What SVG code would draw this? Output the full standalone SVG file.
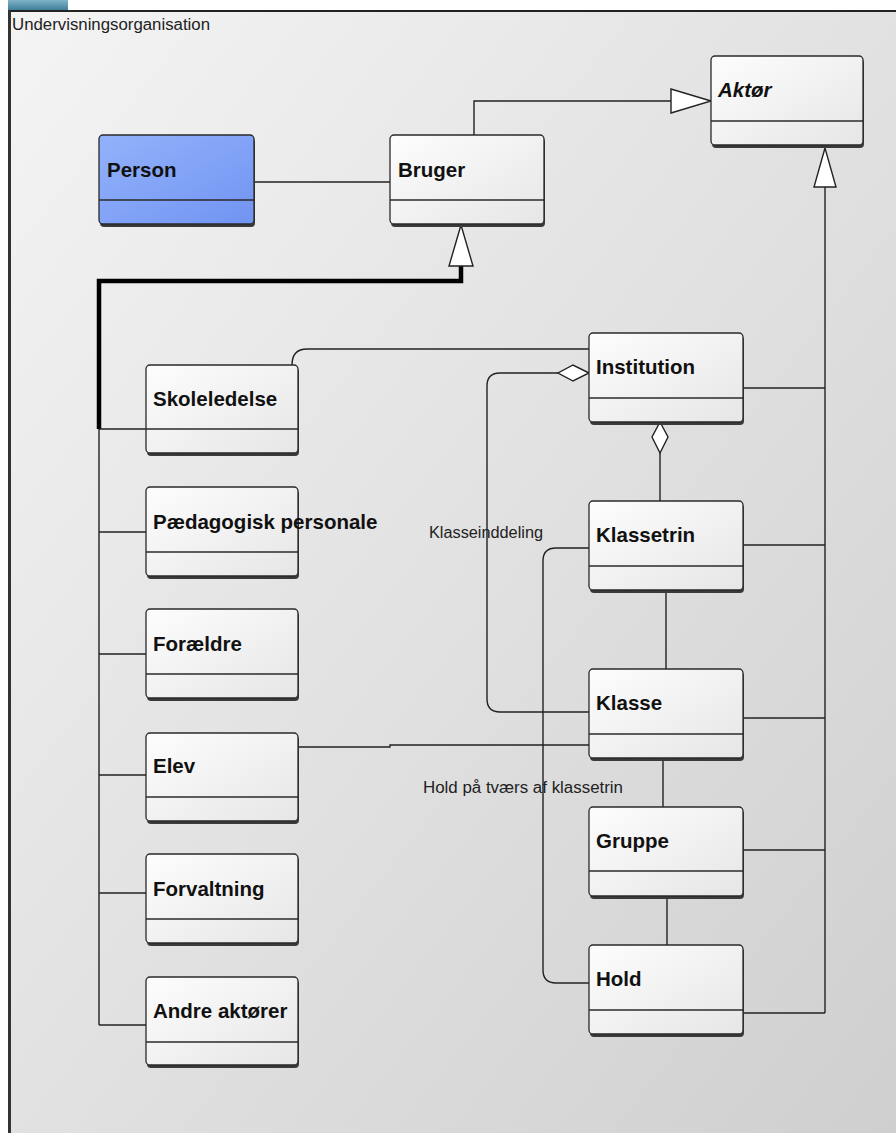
<svg xmlns="http://www.w3.org/2000/svg" width="896" height="1133" viewBox="0 0 896 1133">
<defs>
<linearGradient id="bg" x1="0" y1="0" x2="1" y2="1">
<stop offset="0" stop-color="#f4f4f4"/>
<stop offset="1" stop-color="#cfcfcf"/>
</linearGradient>
<linearGradient id="nodeFill" x1="0" y1="0" x2="1" y2="1">
<stop offset="0" stop-color="#fdfdfd"/>
<stop offset="1" stop-color="#e6e6e6"/>
</linearGradient>
<linearGradient id="personFill" x1="0" y1="0" x2="1" y2="1">
<stop offset="0" stop-color="#93b2fb"/>
<stop offset="1" stop-color="#7194f2"/>
</linearGradient>
<linearGradient id="tab" x1="0" y1="0" x2="0" y2="1">
<stop offset="0" stop-color="#7fb3c8"/>
<stop offset="1" stop-color="#3f7f9a"/>
</linearGradient>
</defs>
<style>
.box{fill:url(#nodeFill);stroke:#2a2a2a;stroke-width:1.3}
.shadow{fill:#3a3a3a}
.div{stroke:#2a2a2a;stroke-width:1.3}
.name{font-family:"Liberation Sans",Arial,sans-serif;font-weight:bold;font-size:20.5px;fill:#111}
.lbl{font-family:"Liberation Sans",Arial,sans-serif;font-size:16px;fill:#222}
.ln{fill:none;stroke:#222;stroke-width:1.4}
.thick{fill:none;stroke:#000;stroke-width:4.5}
.hollow{fill:#fff;stroke:#222;stroke-width:1.4}
</style>
<rect x="0" y="0" width="896" height="1133" fill="#ffffff"/>
<rect x="8" y="10" width="888" height="1123" fill="url(#bg)"/>
<rect x="8" y="0" width="60" height="10" fill="url(#tab)"/>
<line x1="8" y1="11" x2="896" y2="11" stroke="#222" stroke-width="2"/>
<line x1="9.5" y1="10" x2="9.5" y2="1133" stroke="#333" stroke-width="3"/>
<text x="12" y="30" class="lbl" textLength="198" lengthAdjust="spacingAndGlyphs">Undervisningsorganisation</text>

<g id="connectors">
<line class="ln" x1="254" y1="182" x2="390" y2="182"/>
<path class="ln" d="M474,135 L474,101 L671,101"/>
<polygon class="hollow" points="711,101 671,89 671,113"/>
<path class="thick" d="M461,266 L461,281 L99,281 L99,429"/>
<polygon class="hollow" points="461,225 449,266 473,266"/>
<path class="ln" d="M99,429 L99,1025"/>
<line class="ln" x1="99" y1="429" x2="146" y2="429"/>
<line class="ln" x1="99" y1="532" x2="146" y2="532"/>
<line class="ln" x1="99" y1="654" x2="146" y2="654"/>
<line class="ln" x1="99" y1="775" x2="146" y2="775"/>
<line class="ln" x1="99" y1="893" x2="146" y2="893"/>
<line class="ln" x1="99" y1="1025" x2="146" y2="1025"/>
<path class="ln" d="M292,365 Q292,349 307,349 L589,349"/>
<path class="ln" d="M558,373 L500,373 Q487,373 487,386 L487,699 Q487,712 500,712 L589,712"/>
<polygon class="hollow" points="589,373 573,365 558,373 573,381"/>
<line class="ln" x1="660" y1="453" x2="660" y2="501"/>
<polygon class="hollow" points="660,422 668,437 660,453 652,437"/>
<line class="ln" x1="666" y1="590" x2="666" y2="669"/>
<line class="ln" x1="663" y1="758" x2="663" y2="807"/>
<line class="ln" x1="667" y1="896" x2="667" y2="945"/>
<path class="ln" d="M589,548 L556,548 Q543,548 543,561 L543,970 Q543,983 556,983 L589,983"/>
<path class="ln" d="M298,747 L390,747 L390,745 L589,745"/>
<line class="ln" x1="743" y1="388" x2="825" y2="388"/>
<line class="ln" x1="743" y1="545" x2="825" y2="545"/>
<line class="ln" x1="743" y1="718" x2="825" y2="718"/>
<line class="ln" x1="743" y1="850" x2="825" y2="850"/>
<line class="ln" x1="743" y1="1013" x2="825" y2="1013"/>
<line class="ln" x1="825" y1="1013" x2="825" y2="187"/>
<polygon class="hollow" points="825,148 814,187 836,187"/>
<text x="429" y="538" class="lbl" textLength="114" lengthAdjust="spacingAndGlyphs">Klasseinddeling</text>
<text x="423" y="793" class="lbl" textLength="200" lengthAdjust="spacingAndGlyphs">Hold på tværs af klassetrin</text>
</g>

<g id="aktor">
<rect class="shadow" x="712" y="59" width="152" height="89" rx="4"/>
<rect class="box" x="711" y="56" width="152" height="89" rx="4"/>
<line class="div" x1="711" y1="121" x2="863" y2="121"/>
<text x="718" y="97" class="name" font-style="italic">Aktør</text>
</g>
<g id="person">
<rect class="shadow" x="100" y="138" width="155" height="89" rx="4"/>
<rect x="99" y="135" width="155" height="89" rx="4" fill="url(#personFill)" stroke="#2a2a2a" stroke-width="1.3"/>
<line class="div" x1="99" y1="200" x2="254" y2="200"/>
<text x="107" y="177" class="name">Person</text>
</g>
<g id="bruger">
<rect class="shadow" x="391" y="138" width="154" height="89" rx="4"/>
<rect class="box" x="390" y="135" width="154" height="89" rx="4"/>
<line class="div" x1="390" y1="200" x2="544" y2="200"/>
<text x="398" y="177" class="name">Bruger</text>
</g>

<g id="skoleledelse">
<rect class="shadow" x="147" y="368" width="152" height="88" rx="4"/>
<rect class="box" x="146" y="365" width="152" height="88" rx="4"/>
<line class="div" x1="146" y1="429" x2="298" y2="429"/>
<text x="153" y="406" class="name">Skoleledelse</text>
</g>
<g id="paedagogisk">
<rect class="shadow" x="147" y="490" width="152" height="89" rx="4"/>
<rect class="box" x="146" y="487" width="152" height="89" rx="4"/>
<line class="div" x1="146" y1="552" x2="298" y2="552"/>
<text x="153" y="529" class="name">Pædagogisk personale</text>
</g>
<g id="foraeldre">
<rect class="shadow" x="147" y="612" width="152" height="89" rx="4"/>
<rect class="box" x="146" y="609" width="152" height="89" rx="4"/>
<line class="div" x1="146" y1="674" x2="298" y2="674"/>
<text x="153" y="651" class="name">Forældre</text>
</g>
<g id="elev">
<rect class="shadow" x="147" y="736" width="152" height="88" rx="4"/>
<rect class="box" x="146" y="733" width="152" height="88" rx="4"/>
<line class="div" x1="146" y1="797" x2="298" y2="797"/>
<text x="153" y="773" class="name">Elev</text>
</g>
<g id="forvaltning">
<rect class="shadow" x="147" y="857" width="152" height="89" rx="4"/>
<rect class="box" x="146" y="854" width="152" height="89" rx="4"/>
<line class="div" x1="146" y1="919" x2="298" y2="919"/>
<text x="153" y="896" class="name">Forvaltning</text>
</g>
<g id="andre">
<rect class="shadow" x="147" y="980" width="152" height="88" rx="4"/>
<rect class="box" x="146" y="977" width="152" height="88" rx="4"/>
<line class="div" x1="146" y1="1042" x2="298" y2="1042"/>
<text x="153" y="1018" class="name">Andre aktører</text>
</g>

<g id="institution">
<rect class="shadow" x="590" y="336" width="154" height="89" rx="4"/>
<rect class="box" x="589" y="333" width="154" height="89" rx="4"/>
<line class="div" x1="589" y1="398" x2="743" y2="398"/>
<text x="596" y="374" class="name">Institution</text>
</g>
<g id="klassetrin">
<rect class="shadow" x="590" y="504" width="154" height="89" rx="4"/>
<rect class="box" x="589" y="501" width="154" height="89" rx="4"/>
<line class="div" x1="589" y1="566" x2="743" y2="566"/>
<text x="596" y="542" class="name">Klassetrin</text>
</g>
<g id="klasse">
<rect class="shadow" x="590" y="672" width="154" height="89" rx="4"/>
<rect class="box" x="589" y="669" width="154" height="89" rx="4"/>
<line class="div" x1="589" y1="734" x2="743" y2="734"/>
<text x="596" y="710" class="name">Klasse</text>
</g>
<g id="gruppe">
<rect class="shadow" x="590" y="810" width="154" height="89" rx="4"/>
<rect class="box" x="589" y="807" width="154" height="89" rx="4"/>
<line class="div" x1="589" y1="871" x2="743" y2="871"/>
<text x="596" y="848" class="name">Gruppe</text>
</g>
<g id="hold">
<rect class="shadow" x="590" y="948" width="154" height="89" rx="4"/>
<rect class="box" x="589" y="945" width="154" height="89" rx="4"/>
<line class="div" x1="589" y1="1010" x2="743" y2="1010"/>
<text x="596" y="986" class="name">Hold</text>
</g>
</svg>
